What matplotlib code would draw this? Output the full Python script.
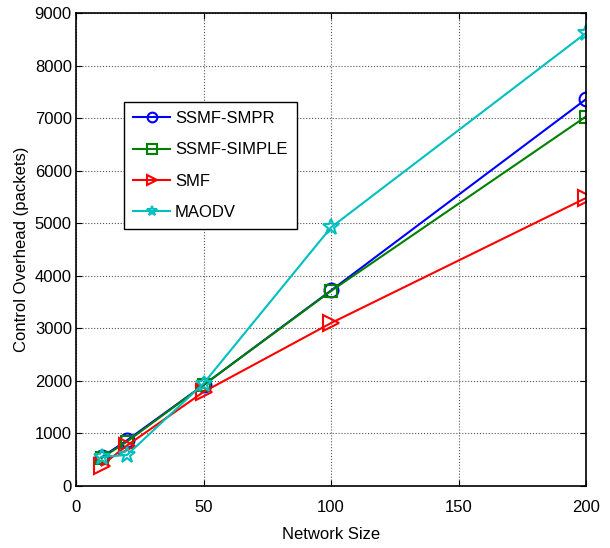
import matplotlib.pyplot as plt
from matplotlib.legend_handler import HandlerLine2D

plt.rcParams['font.family'] = ['Liberation Sans', 'DejaVu Sans']

network_size = [10, 20, 50, 100, 200]
ssmf_smpr = [545, 870, 1920, 3720, 7360]
ssmf_simple = [530, 845, 1920, 3710, 7030]
smf = [390, 770, 1790, 3100, 5480]
maodv = [555, 590, 1950, 4920, 8620]

fig = plt.figure(figsize=(6.1, 5.48), dpi=100)
ax = fig.add_axes([76 / 610, 1 - 486 / 548, 510 / 610, 473 / 548])

style = dict(mfc='none', mew=1.5, lw=1.5)
ax.plot(network_size, ssmf_smpr, color='blue', marker='o', ms=10, label='SSMF-SMPR', **style)
ax.plot(network_size, ssmf_simple, color='green', marker='s', ms=9, label='SSMF-SIMPLE', **style)
ax.plot(network_size, smf, color='red', marker='>', ms=11, label='SMF', **style)
ax.plot(network_size, maodv, color='#00bfbf', marker='*', ms=12, label='MAODV', **style)

ax.set_xlim(0, 200)
ax.set_ylim(0, 9000)
ax.set_xticks([0, 50, 100, 150, 200])
ax.set_yticks(range(0, 9001, 1000))
ax.tick_params(direction='in', top=True, right=True, labelsize=12, length=4, pad=3)
ax.tick_params(axis='x', pad=10)
ax.grid(True, linestyle=':', color='#555555', linewidth=0.8)
for s in ax.spines.values():
    s.set_linewidth(1.2)

ax.set_xlabel('Network Size', fontsize=12, labelpad=9)
ax.set_ylabel('Control Overhead (packets)', fontsize=12)


def small_marker(legline, origline):
    legline.update_from(origline)
    legline.set_markersize(7)


leg = ax.legend(loc='upper left', bbox_to_anchor=(48 / 510, 384 / 473), fontsize=12,
                fancybox=False, framealpha=1, edgecolor='black',
                handlelength=2.2, handletextpad=0.3, borderpad=0.55,
                labelspacing=0.97, borderaxespad=0,
                handler_map={plt.Line2D: HandlerLine2D(update_func=small_marker)})
leg.get_frame().set_linewidth(1.0)

fig.savefig('out.png', dpi=100)
